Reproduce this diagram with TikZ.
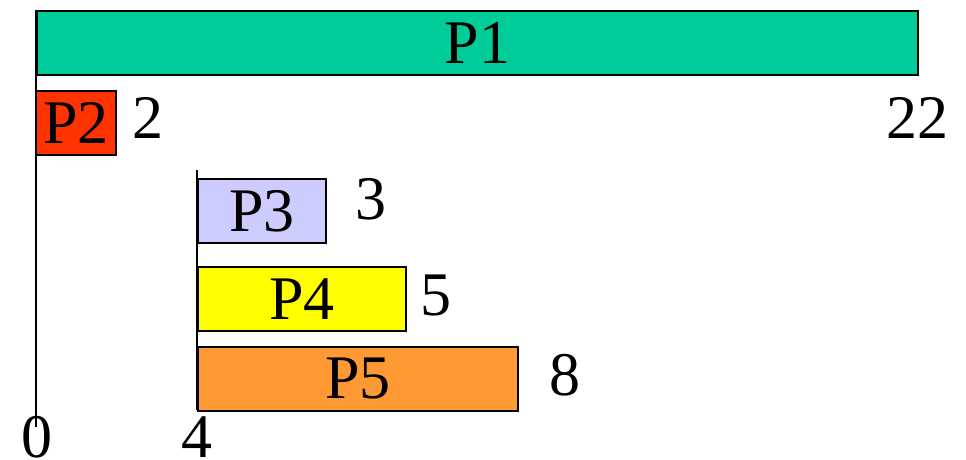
\documentclass[tikz,border=0pt]{standalone}
\usepackage{fontspec}
\setmainfont{Liberation Serif}
\definecolor{cP1}{HTML}{00CC99}
\definecolor{cP2}{HTML}{FF3300}
\definecolor{cP3}{HTML}{CCCCFF}
\definecolor{cP4}{HTML}{FFFF00}
\definecolor{cP5}{HTML}{FF9933}
\tikzset{
  bar/.style={draw=black, line width=1.6pt, rectangle, inner sep=0pt, anchor=north west,
    font=\fontsize{62}{62}\selectfont},
  num/.style={inner sep=0pt, anchor=base, font=\fontsize{62}{62}\selectfont},
  axis/.style={draw=black, line width=1.6pt}
}
\begin{document}
\begin{tikzpicture}[x=1pt,y=-1pt]
\useasboundingbox (0,0) rectangle (966,459);
\coordinate (a0top) at (36,10);
\coordinate (a0bot) at (36,427);
\coordinate (a4top) at (197,170);
\coordinate (a4bot) at (197,410);
\draw[axis] (a0top) -- (a0bot);
\draw[axis] (a4top) -- (a4bot);
\node[bar, fill=cP1, minimum width=881pt, minimum height=64pt] (p1) at (36,10) {P1};
\node[bar, fill=cP2, minimum width=80pt, minimum height=64pt] (p2) at (35,90) {P2};
\node[bar, fill=cP3, minimum width=128pt, minimum height=64pt] (p3) at (197,178) {P3};
\node[bar, fill=cP4, minimum width=208pt, minimum height=64pt] (p4) at (197,266) {P4};
\node[bar, fill=cP5, minimum width=320pt, minimum height=64pt] (p5) at (197,346) {P5};
\node[num] (n2) at (148,138) {2};
\node[num] (n22) at (917,138) {22};
\node[num] (n3) at (371,219) {3};
\node[num] (n5) at (436,315) {5};
\node[num] (n8) at (565,395) {8};
\node[num] (n0) at (37,457) {0};
\node[num] (n4) at (197,457) {4};
\end{tikzpicture}
\end{document}
